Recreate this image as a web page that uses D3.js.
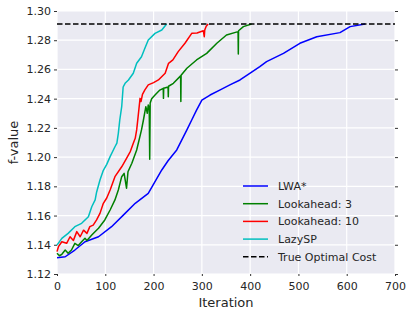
<!DOCTYPE html>
<html>
<head>
<meta charset="utf-8">
<script src="https://cdn.jsdelivr.net/npm/d3@7"></script>
<style>
  body { margin: 0; background: #fff; }
  svg { display: block; font-family: "DejaVu Sans", sans-serif; }
</style>
</head>
<body>
<div id="chart"></div>
<script>
// values: [iteration, f-value]
var lwaStar = [[0,1.1312],[17,1.1318],[37,1.1364],[58,1.1421],[86,1.1455],[113,1.1524],[141,1.1615],
  [162,1.1684],[189,1.1752],[217,1.1912],[230,1.1975],[248,1.2049],[269,1.2186],[279,1.2254],[289,1.2322],
  [300,1.2390],[317,1.2425],[338,1.2460],[358,1.2494],[379,1.2528],[400,1.2574],[420,1.2619],[434,1.2653],
  [469,1.2710],[503,1.2779],[538,1.2824],[586,1.2852],[607,1.2893],[638,1.2911]];

var lookahead3 = [[0,1.1342],[5,1.1325],[10,1.1335],[17,1.1364],[23,1.1342],[30,1.1364],[37,1.1410],
  [44,1.1395],[51,1.1420],[58,1.1444],[62,1.1430],[72,1.1467],[86,1.1513],[99,1.1570],[110,1.1638],
  [120,1.1707],[127,1.1775],[134,1.1866],[139,1.1889],[144,1.1787],[147,1.1900],[155,1.1958],[165,1.2049],
  [175,1.2186],[179,1.2254],[184,1.2345],[187,1.2300],[189,1.2357],[191,1.2340],[192,1.1985],[193,1.2370],
  [196,1.2400],[203,1.2425],[213,1.2459],[220,1.2471],[220.5,1.2402],[221,1.2471],[230,1.2480],
  [230.5,1.2413],[231,1.2485],[241,1.2505],[256,1.2556],[256.5,1.2380],[257,1.2560],[269,1.2608],
  [289,1.2665],[310,1.2710],[331,1.2779],[351,1.2836],[375,1.2859],[375.5,1.2706],[376,1.2865],
  [386,1.2893],[403,1.2911]];

var lookahead10 = [[0,1.1353],[3,1.1387],[10,1.1421],[20,1.1410],[27,1.1455],[34,1.1430],[41,1.1490],
  [48,1.1455],[55,1.1500],[62,1.1478],[68,1.1524],[75,1.1535],[82,1.1570],[89,1.1615],[96,1.1684],
  [103,1.1720],[110,1.1775],[120,1.1866],[134,1.1934],[144,1.1992],[152,1.2040],[158,1.2095],[162,1.2129],
  [165,1.2186],[168,1.2277],[172,1.2402],[174,1.2380],[177,1.2430],[182,1.2460],[189,1.2494],[200,1.2510],
  [210,1.2528],[224,1.2574],[231,1.2642],[240,1.2665],[251,1.2722],[265,1.2779],[279,1.2847],[290,1.2850],
  [303,1.2865],[305,1.2824],[306,1.2870],[309,1.2895],[313,1.2911]];

var lazySP = [[0,1.1398],[10,1.1444],[23,1.1478],[37,1.1524],[51,1.1547],[65,1.1592],[72,1.1660],
  [79,1.1707],[82,1.1760],[89,1.1843],[96,1.1910],[103,1.1950],[110,1.2003],[120,1.2071],[124,1.2095],
  [127,1.2163],[130,1.2254],[134,1.2345],[137,1.2480],[141,1.2505],[148,1.2528],[158,1.2574],[165,1.2642],
  [175,1.2687],[182,1.2745],[189,1.2802],[203,1.2847],[217,1.2870],[227,1.2911]];

var trueOptimal = 1.2911;

var seriesNames = ["LWA*", "Lookahead: 3", "Lookahead: 10", "LazySP", "True Optimal Cost"];
var seriesColors = ["#0000ff", "#008000", "#ff0000", "#00bfbf", "#000000"];

var xTicks = [0, 100, 200, 300, 400, 500, 600, 700];
var yTicks = [1.12, 1.14, 1.16, 1.18, 1.20, 1.22, 1.24, 1.26, 1.28, 1.30];

var width = 408, height = 311;
var margin = {top: 11, right: 13, bottom: 37, left: 57};

var svg = d3.select("#chart").append("svg")
  .attr("width", width)
  .attr("height", height);

var x = d3.scaleLinear().domain([0, 700]).range([margin.left, width - margin.right]);
var y = d3.scaleLinear().domain([1.12, 1.30]).range([height - margin.bottom, margin.top]);

// background
svg.append("rect")
  .attr("x", x(0)).attr("y", y(1.30))
  .attr("width", x(700) - x(0)).attr("height", y(1.12) - y(1.30))
  .attr("fill", "#eaeaf2");

// grid
svg.append("g").selectAll("line").data(xTicks).enter().append("line")
  .attr("x1", function(d) { return x(d); }).attr("x2", function(d) { return x(d); })
  .attr("y1", y(1.12)).attr("y2", y(1.30))
  .attr("stroke", "#fff").attr("stroke-width", 1.2);
svg.append("g").selectAll("line").data(yTicks).enter().append("line")
  .attr("y1", function(d) { return y(d); }).attr("y2", function(d) { return y(d); })
  .attr("x1", x(0)).attr("x2", x(700))
  .attr("stroke", "#fff").attr("stroke-width", 1.2);

// axes
var xAxis = svg.append("g")
  .attr("transform", "translate(0," + y(1.12) + ")")
  .call(d3.axisBottom(x).tickValues(xTicks).tickSize(2).tickPadding(6).tickFormat(d3.format("d")));
var yAxis = svg.append("g")
  .attr("transform", "translate(" + x(0) + ",0)")
  .call(d3.axisLeft(y).tickValues(yTicks).tickSize(3).tickPadding(3).tickFormat(d3.format(".2f")));
var yAxisRight = svg.append("g")
  .attr("transform", "translate(" + x(700) + ",0)")
  .call(d3.axisRight(y).tickValues(yTicks).tickSize(3).tickFormat(""));

[xAxis, yAxis, yAxisRight].forEach(function(a) {
  a.select(".domain").remove();
  a.selectAll("line").attr("stroke", "#333");
  a.selectAll("text").attr("fill", "#262626").style("font-size", "11px")
    .style("font-family", "DejaVu Sans, sans-serif");
});

// lines
var line = d3.line()
  .x(function(d) { return x(d[0]); })
  .y(function(d) { return y(d[1]); });

var data = [lwaStar, lookahead3, lookahead10, lazySP];
data.forEach(function(s, i) {
  svg.append("path")
    .datum(s)
    .attr("d", line)
    .attr("fill", "none")
    .attr("stroke", seriesColors[i])
    .attr("stroke-width", 1.5)
    .attr("stroke-linejoin", "round");
});

svg.append("line")
  .attr("x1", x(0)).attr("x2", x(700))
  .attr("y1", y(trueOptimal)).attr("y2", y(trueOptimal))
  .attr("stroke", "#000").attr("stroke-width", 1.5)
  .attr("stroke-dasharray", "5.5,2.5");

// axis labels
svg.append("text")
  .attr("x", (x(0) + x(700)) / 2).attr("y", 307)
  .attr("text-anchor", "middle")
  .attr("fill", "#262626").style("font-size", "13px")
  .text("Iteration");
svg.append("text")
  .attr("transform", "translate(18," + (y(1.12) + y(1.30)) / 2 + ") rotate(-90)")
  .attr("text-anchor", "middle")
  .attr("fill", "#262626").style("font-size", "13px")
  .text("f-value");

// legend
var legend = svg.append("g").attr("transform", "translate(243,186)");
seriesNames.forEach(function(name, i) {
  var row = legend.append("g").attr("transform", "translate(0," + (i * 17.7) + ")");
  row.append("line")
    .attr("x1", 0).attr("x2", 25).attr("y1", 0).attr("y2", 0)
    .attr("stroke", seriesColors[i]).attr("stroke-width", 1.5)
    .attr("stroke-dasharray", i == 4 ? "5.5,2.5" : null);
  row.append("text")
    .attr("x", 35).attr("y", 4)
    .attr("fill", "#262626").style("font-size", "11px")
    .text(name);
});
</script>
</body>
</html>
